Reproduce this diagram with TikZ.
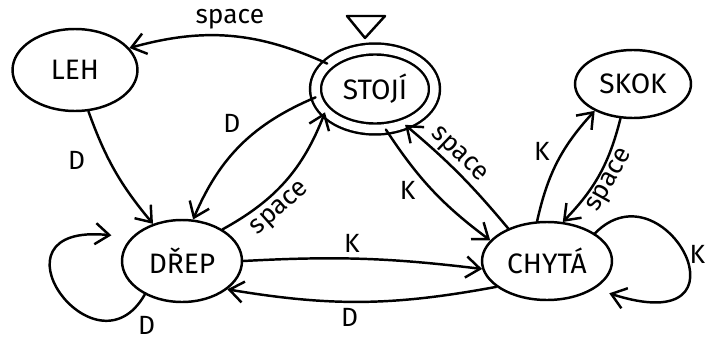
\documentclass[tikz,border=0pt]{standalone}
\usepackage{fontspec}
\setmainfont{Fira Sans}
\usetikzlibrary{shapes.geometric,arrows.meta}

\newcommand{\statefont}{\fontsize{16}{18}\selectfont}
\newcommand{\edgefont}{\fontsize{15}{17}\selectfont}

\tikzset{
  state/.style={ellipse, draw, line width=1.4pt, inner sep=0pt, font=\statefont},
  trans/.style={-{Straight Barb[length=8pt,width=12pt]}, line width=1.4pt,
    line cap=round, line join=round},
  lbl/.style={font=\edgefont, inner sep=3pt},
}

\begin{document}
\begin{tikzpicture}[x=0.02cm,y=0.02cm]
\useasboundingbox (0,0) rectangle (705,342);

% states
\node[state, minimum width=2.5cm, minimum height=1.64cm] (leh) at (75,272) {LEH};
\node[state, double, double distance=0.17cm,
      minimum width=2.38cm, minimum height=1.6cm] (stoji) at (375,253) {STOJÍ};
\node[state, minimum width=2.32cm, minimum height=1.36cm] (skok) at (633,258) {SKOK};
\node[state, minimum width=2.4cm, minimum height=1.64cm] (drep) at (182,81) {DŘEP};
\node[state, minimum width=2.6cm, minimum height=1.56cm] (chyta) at (547,81) {CHYTÁ};

% start marker
\draw[line width=1.4pt, line join=round] (347,326) -- (385,326) -- (365,304) -- cycle;

% transitions
\draw[trans] (stoji.152) to[bend right=20] node[lbl, above] {space} (leh.22);
\draw[trans] (leh.-72) to[bend right=10] node[lbl, left=10pt, pos=0.4] {D} (drep.128);
\draw[trans] (stoji.188) to[bend right=22] node[lbl, above left, pos=0.45] {D} (drep.75);
\draw[trans] (drep.38) to[bend right=20] node[lbl, sloped, below, pos=0.35] {space} (stoji.205);
\draw[trans] (stoji.-75) to[bend right=10] node[lbl, left=6pt, pos=0.5] {K} (chyta.160);
\draw[trans] (chyta.140) to[bend right=5] node[lbl, sloped, above, inner sep=1pt, pos=0.6] {space} (stoji.-50);
\draw[trans] (chyta.104) to[bend left=15] node[lbl, left=4pt, pos=0.6] {K} (skok.215);
\draw[trans] (skok.250) to[bend left=15] node[lbl, sloped, below, inner sep=1pt, pos=0.5] {space} (chyta.68);
\draw[trans] (drep.0) to[bend left=5] node[lbl, above, pos=0.45] {K} (chyta.187);
\draw[trans] (chyta.207) to[bend left=10] node[lbl, below, pos=0.55] {D} (drep.-32);

% self loops
\draw[trans, shorten >=0.4cm] (drep.222) .. controls (95,-40) and (-20,120) .. (drep.155)
  node[lbl, anchor=north west, inner sep=0pt, xshift=5pt, yshift=-1pt, pos=0.1] {D};
\draw[trans, shorten >=0.3cm] (chyta.30) .. controls (665,180) and (760,0) .. (chyta.-30)
  node[lbl, right, pos=0.5] {K};
\end{tikzpicture}
\end{document}
